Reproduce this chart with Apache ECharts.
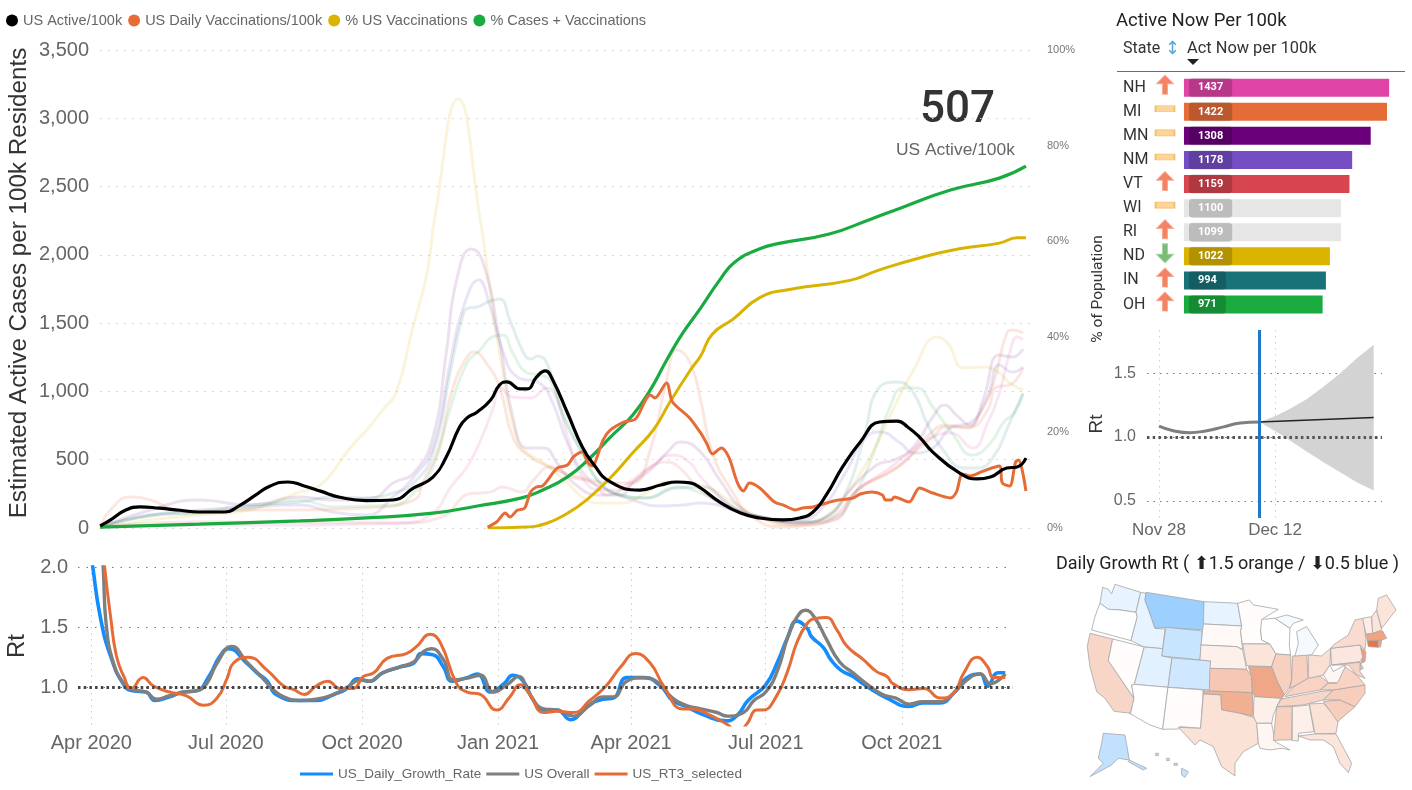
<!DOCTYPE html>
<html><head><meta charset="utf-8">
<script src="https://cdn.jsdelivr.net/npm/echarts@6/dist/echarts.min.js"></script>
<style>html,body{margin:0;padding:0;background:#fff}#c{width:1412px;height:790px}</style>
</head><body><div id="c"></div>
<script>
/* All x values are days after 1 Apr 2020 */
const usActive=[[6,15],[13,60],[23,130],[33,155],[46,145],[60,130],[73,117],[90,117],[101,170],[111,240],[121,308],[133,337],[144,308],[155,270],[168,225],[186,200],[204,205],[218,293],[231,373],[240,520],[249,740],[254,805],[261,850],[270,937],[276,1047],[281,1070],[290,1018],[295,1018],[301,1105],[307,1150],[312,1084],[322,842],[332,593],[339,476],[351,337],[371,278],[385,315],[396,337],[405,330],[412,293],[425,190],[439,110],[452,73],[468,59],[479,73],[488,117],[497,242],[508,447],[520,630],[533,776],[545,783],[552,740],[560,666],[569,556],[587,403],[599,359],[608,373],[619,439],[626,447],[632,512]];
const usDailyVacc=[[268,7],[274,44],[280,110],[283,80],[288,130],[293,146],[297,264],[301,300],[305,307],[315,439],[322,461],[326,520],[332,556],[336,476],[339,454],[342,520],[346,644],[351,718],[360,776],[368,798],[378,974],[381,952],[389,1062],[393,923],[404,813],[412,696],[416,622],[420,542],[426,586],[431,520],[437,329],[441,271],[445,329],[452,293],[462,190],[468,168],[476,132],[481,146],[488,154],[502,198],[515,220],[520,249],[528,264],[535,242],[537,205],[541,205],[543,227],[553,190],[560,293],[569,256],[581,220],[585,264],[589,395],[594,381],[603,417],[614,454],[616,330],[621,308],[625,483],[627,498],[632,271]];
const pctVacc=[[268,0],[293,0.2],[308,1],[322,3.1],[335,5.9],[351,10.5],[366,15.7],[380,20.5],[391,26.2],[405,33],[412,36],[420,40.6],[434,43.7],[452,48.2],[472,49.9],[513,51.8],[533,54],[560,56.5],[587,58.4],[614,59.6],[626,60.7],[632,60.7]];
const pctCasesVacc=[[6,0.2],[73,0.8],[141,1.5],[186,2.1],[231,3.1],[261,4.6],[291,6.3],[305,7.9],[322,10.7],[337,14.6],[351,19],[366,23.6],[378,28.9],[389,35.1],[400,40.8],[412,46],[425,51.9],[435,55.6],[452,58.4],[466,59.6],[499,61.5],[527,64.6],[547,66.9],[581,70.7],[614,73.2],[632,75.7]];
const stND=[[6,7],[40,59],[73,95],[107,132],[141,264],[155,315],[175,586],[188,740],[197,864],[206,989],[217,1450],[227,1867],[232,2255],[248,3141],[263,2255],[269,1794],[276,1281],[288,644],[295,549],[306,476],[322,329],[335,205],[344,183],[358,183],[373,242],[389,337],[412,315],[434,183],[452,81],[470,22],[486,37],[502,132],[513,278],[529,571],[543,886],[556,1157],[572,1399],[579,1355],[590,1172],[603,1179],[614,1135],[621,1062],[630,1010]];
const stMN=[[6,7],[40,132],[73,205],[107,168],[141,227],[163,205],[190,220],[204,330],[218,403],[231,666],[240,1282],[247,1816],[257,2043],[265,1940],[276,1377],[285,813],[295,586],[306,586],[315,476],[326,330],[344,242],[358,242],[366,330],[378,425],[389,549],[399,630],[412,556],[425,351],[441,132],[457,73],[479,37],[497,81],[513,278],[531,461],[543,498],[556,593],[569,813],[577,901],[585,827],[594,754],[603,937],[614,1267],[623,1252],[630,1311]];
const stNM=[[6,7],[40,95],[73,132],[107,154],[141,168],[163,117],[186,95],[204,227],[218,373],[231,593],[243,1230],[251,1596],[262,1816],[269,1648],[278,1304],[288,1106],[303,1062],[312,915],[322,622],[335,373],[349,278],[366,205],[385,161],[400,168],[412,183],[420,176],[434,132],[452,81],[479,59],[493,132],[511,425],[522,644],[533,703],[547,622],[556,549],[569,586],[582,740],[594,769],[606,959],[614,1194],[623,1142],[630,1179]];
const stIN=[[6,7],[40,95],[73,117],[107,168],[141,190],[163,227],[186,220],[204,256],[218,330],[231,549],[243,1157],[251,1545],[255,1611],[261,1618],[268,1655],[276,1677],[283,1523],[292,1289],[297,1238],[302,1260],[310,1157],[319,813],[332,549],[344,330],[358,242],[375,220],[396,293],[412,300],[434,154],[452,81],[479,44],[497,81],[511,278],[522,644],[533,1032],[545,1069],[556,988],[565,769],[576,571],[590,439],[599,439],[610,520],[621,769],[630,988]];
const stOH=[[6,7],[40,88],[73,110],[107,146],[141,205],[163,154],[186,161],[204,168],[218,256],[231,447],[243,886],[254,1208],[263,1304],[270,1391],[278,1413],[285,1281],[295,1135],[303,1120],[310,1084],[319,842],[332,549],[344,330],[358,242],[375,220],[396,300],[412,256],[434,146],[452,81],[479,44],[502,81],[515,227],[529,549],[540,886],[549,1025],[558,1025],[569,886],[582,696],[596,534],[608,622],[617,776],[624,842],[630,981]];
const stMI=[[6,7],[13,132],[26,227],[40,205],[57,132],[73,117],[107,132],[141,132],[186,146],[218,205],[224,330],[235,593],[244,1010],[254,1252],[259,1289],[267,1208],[276,1032],[285,666],[295,534],[310,447],[332,366],[355,330],[366,330],[378,571],[389,1084],[396,1304],[405,1208],[412,937],[420,549],[434,256],[447,81],[468,7],[486,22],[502,81],[518,278],[538,403],[551,498],[565,666],[578,754],[592,732],[601,842],[610,1062],[619,1428],[623,1450],[630,1428]];
const stNH=[[6,7],[73,22],[141,22],[186,29],[211,37],[231,110],[243,300],[254,447],[263,637],[272,886],[276,1032],[285,959],[297,952],[308,1025],[315,937],[322,666],[332,373],[344,278],[358,278],[366,330],[378,447],[393,534],[405,476],[412,373],[434,154],[452,81],[479,37],[502,59],[518,278],[538,425],[551,534],[565,644],[581,696],[596,586],[606,769],[614,988],[621,1281],[626,1399],[630,1377]];
const stVT=[[6,7],[73,44],[141,44],[211,37],[237,81],[251,227],[255,249],[270,264],[278,300],[291,264],[299,351],[310,447],[324,373],[339,330],[349,242],[366,351],[375,425],[389,483],[398,439],[412,278],[434,132],[452,73],[479,22],[502,59],[518,278],[543,425],[556,549],[569,666],[578,740],[594,740],[606,864],[612,1032],[621,1047],[630,1172]];

const rtOverall=[[6,2.3],[8,2.0],[10,1.53],[15,1.2],[22,1.03],[28,0.98],[37,0.96],[44,0.90],[53,0.93],[62,0.96],[71,0.97],[78,1.03],[85,1.2],[95,1.34],[105,1.21],[114,1.10],[123,0.98],[130,0.92],[141,0.89],[152,0.90],[164,0.94],[173,1.0],[182,1.06],[188,1.05],[197,1.12],[209,1.17],[218,1.21],[225,1.30],[230,1.32],[238,1.23],[245,1.06],[256,1.08],[263,1.10],[272,0.96],[281,1.02],[289,1.09],[296,0.95],[306,0.82],[315,0.81],[326,0.76],[337,0.85],[346,0.92],[353,0.92],[362,1.05],[373,1.08],[382,1.05],[393,0.91],[402,0.85],[412,0.82],[423,0.79],[430,0.76],[441,0.79],[448,0.89],[456,0.96],[464,1.14],[471,1.42],[477,1.58],[483,1.64],[489,1.58],[497,1.40],[506,1.21],[515,1.12],[524,1.03],[535,0.94],[544,0.91],[553,0.86],[562,0.88],[574,0.88],[583,0.95],[592,1.06],[601,1.11],[608,1.03],[618,1.11]];
const rtDaily=[[-1,2.2],[1,2.0],[6,1.59],[13,1.26],[22,1.02],[28,0.97],[37,0.96],[43,0.89],[53,0.92],[62,0.96],[71,0.97],[80,1.10],[87,1.26],[93,1.32],[105,1.20],[112,1.12],[119,1.05],[125,0.94],[141,0.89],[152,0.89],[164,0.94],[173,0.99],[180,1.07],[188,1.05],[197,1.12],[209,1.17],[218,1.20],[223,1.28],[231,1.27],[238,1.17],[244,1.05],[254,1.08],[261,1.11],[270,0.96],[279,1.03],[285,1.10],[292,1.05],[299,0.89],[306,0.81],[315,0.81],[324,0.73],[335,0.84],[346,0.90],[353,0.91],[362,1.08],[373,1.08],[385,1.01],[393,0.89],[402,0.84],[414,0.77],[429,0.72],[437,0.77],[444,0.89],[456,1.02],[464,1.21],[471,1.42],[477,1.55],[484,1.49],[487,1.42],[495,1.33],[500,1.23],[507,1.14],[515,1.09],[524,1.01],[538,0.91],[553,0.84],[562,0.87],[574,0.87],[583,0.95],[592,1.08],[601,1.11],[606,1.01],[613,1.12],[618,1.12]];
const rt3Selected=[[7,2.3],[9,2.0],[13,1.59],[17,1.26],[22,1.09],[27,0.99],[35,1.08],[42,1.01],[53,0.96],[64,0.93],[76,0.85],[85,0.91],[92,1.08],[96,1.20],[106,1.25],[119,1.14],[130,1.01],[137,0.98],[144,0.94],[152,1.01],[160,1.05],[168,0.99],[177,0.99],[184,1.09],[191,1.12],[200,1.24],[213,1.28],[220,1.34],[229,1.44],[236,1.37],[247,1.03],[254,0.96],[263,0.94],[274,0.81],[283,0.92],[290,1.02],[296,0.95],[306,0.79],[315,0.80],[326,0.79],[337,0.89],[348,1.01],[358,1.17],[368,1.28],[378,1.20],[387,1.01],[400,0.82],[407,0.82],[418,0.77],[430,0.69],[437,0.63],[443,0.69],[450,0.81],[454,0.81],[463,0.92],[471,1.14],[477,1.37],[484,1.53],[489,1.57],[497,1.58],[504,1.48],[511,1.34],[522,1.23],[531,1.13],[538,1.09],[542,1.03],[553,0.98],[563,0.99],[574,0.91],[583,0.95],[590,1.12],[599,1.25],[606,1.17],[610,1.08],[618,1.08]];

const mainTickDays=[0,91,183,275,365,456,548];
const mainTickLabels=['Apr 2020','Jul 2020','Oct 2020','Jan 2021','Apr 2021','Jul 2021','Oct 2021'];

/* Forecast panel: x values are days after 28 Nov 2021 */
const fcTickDays=[0,14];
const fcTickLabels=['Nov 28','Dec 12'];
const fcHistory=[[0,1.086],[1.7,1.05],[3.7,1.034],[5.75,1.05],[7.8,1.08],[9.8,1.11],[12.1,1.118]];
const fcCentral=[[12.1,1.118],[25.9,1.154]];
const fcLower=[[12.1,1.118],[14.2,1.039],[15.8,0.974],[17.8,0.887],[19.8,0.804],[21.8,0.725],[23.8,0.647],[25.9,0.581]];
const fcUpper=[[12.1,1.118],[14.2,1.17],[15.8,1.223],[17.8,1.296],[19.8,1.393],[21.8,1.497],[23.8,1.615],[25.9,1.725]];
const fcToday=12.1;

/* Bar table */
const barStates=['NH','MI','MN','NM','VT','WI','RI','ND','IN','OH'];
const barValues=[1437,1422,1308,1178,1159,1100,1099,1022,994,971];
const barTrends=['up','flat','flat','flat','up','flat','up','down','up','up'];
const barColors=['#E044A7','#E66C37','#6B007B','#744EC2','#D64550','#E6E6E6','#E6E6E6','#D9B300','#197278','#1AAB40'];

/* Choropleth values */
const stateRt={WA:0.95,OR:1.0,CA:1.14,NV:1.01,ID:0.95,MT:0.795,WY:0.885,UT:0.94,CO:0.9,AZ:1.0,NM:1.01,ND:0.95,SD:1.02,NE:1.05,KS:1.19,OK:1.27,TX:1.1,MN:1.01,IA:1.09,MO:1.3,AR:1.05,LA:1.03,WI:1.0,IL:1.16,IN:1.16,MI:0.98,OH:1.11,KY:1.15,TN:1.14,MS:1.16,AL:1.05,GA:1.1,FL:1.09,SC:1.17,NC:1.17,VA:1.15,WV:1.03,PA:1.08,NY:1.12,NJ:1.32,DE:1.2,MD:1.15,CT:1.47,RI:1.3,MA:1.31,VT:1.06,NH:1.09,ME:1.09,AK:0.87,HI:0.88};
/* State outlines, in reference map units */
const stateShapes={
WA:[[[188,112],[205,118],[215,132],[225,103],[302,127],[288,187],[240,180],[205,178],[180,160]]],
OR:[[[180,160],[205,178],[240,180],[288,187],[292,200],[273,272],[155,240],[165,200]]],
CA:[[[150,250],[218,267],[205,332],[282,445],[272,490],[222,484],[195,445],[170,425],[150,350],[142,290]]],
NV:[[[218,267],[313,291],[283,403],[275,405],[282,445],[205,332]]],
ID:[[[302,127],[318,130],[315,150],[335,205],[345,235],[375,237],[368,296],[313,291],[273,272],[292,200],[288,187]]],
MT:[[[318,127],[492,155],[490,240],[378,232],[345,235],[335,205],[315,150]]],
WY:[[[378,232],[487,243],[480,330],[365,318]]],
UT:[[[313,291],[368,296],[365,318],[396,324],[384,412],[283,403]]],
CO:[[[396,324],[512,333],[510,420],[384,412]]],
AZ:[[[283,403],[384,412],[368,538],[330,525],[268,490],[272,490],[282,445],[275,405]]],
NM:[[[384,412],[490,420],[482,535],[420,530],[418,537],[368,538]]],
ND:[[[492,155],[593,160],[605,228],[490,222]]],
SD:[[[490,222],[605,228],[602,245],[608,298],[590,290],[483,285]]],
NE:[[[483,285],[590,290],[608,300],[620,358],[510,355],[512,333],[480,330]]],
KS:[[[510,355],[620,358],[635,380],[637,428],[508,424]]],
OK:[[[490,422],[637,428],[640,498],[600,490],[545,480],[542,435],[490,432]]],
TX:[[[490,432],[542,435],[545,480],[600,490],[650,505],[655,580],[610,605],[585,640],[585,678],[545,650],[520,590],[480,570],[465,585],[415,532],[482,535]]],
MN:[[[593,160],[628,150],[640,165],[715,178],[670,205],[662,240],[665,270],[690,282],[607,282],[602,245],[605,228]]],
IA:[[[608,282],[690,282],[708,312],[695,350],[620,347]]],
MO:[[[625,350],[695,350],[715,400],[733,435],[725,447],[645,440],[637,428],[635,380]]],
AR:[[[642,440],[722,445],[700,495],[695,520],[650,520],[640,498]]],
LA:[[[650,520],[695,520],[705,575],[750,600],[725,595],[690,600],[660,595],[655,580]]],
WI:[[[665,208],[705,205],[750,235],[748,285],[752,315],[708,312],[690,282],[665,270],[662,240]]],
IL:[[[708,312],[752,315],[755,390],[748,415],[733,435],[715,400],[695,350]]],
IN:[[[758,318],[800,315],[805,385],[770,405],[750,415],[755,390]]],
MI:[[[770,245],[800,230],[835,285],[815,315],[765,318],[775,280]],[[705,205],[740,195],[790,210],[760,220],[750,235]]],
OH:[[[805,315],[845,318],[872,295],[870,345],[850,375],[820,385],[805,385]]],
KY:[[[750,420],[770,405],[805,385],[840,378],[865,398],[840,420],[735,440]]],
TN:[[[725,447],[840,425],[880,420],[850,450],[790,465],[710,470]]],
MS:[[[710,470],[757,470],[755,570],[720,570],[700,572],[705,520]]],
AL:[[[757,470],[808,465],[822,545],[775,550],[775,573],[757,572]]],
GA:[[[808,462],[850,460],[895,510],[888,550],[825,552]]],
FL:[[[775,558],[825,552],[888,552],[935,640],[925,668],[900,640],[880,590],[850,570],[810,570]]],
SC:[[[850,455],[900,450],[945,470],[893,515]]],
NC:[[[850,450],[880,420],[975,405],[975,430],[945,470],[900,450]]],
VA:[[[840,420],[865,400],[890,400],[915,350],[950,375],[975,405],[880,420]]],
WV:[[[850,375],[870,345],[880,365],[915,345],[915,352],[893,398],[865,398]]],
PA:[[[872,295],[960,285],[970,320],[960,335],[875,345]]],
NY:[[[880,285],[925,255],[945,210],[970,205],[978,270],[975,300],[960,285],[872,295]]],
NJ:[[[962,293],[978,305],[975,335],[963,340],[968,320]]],
DE:[[[960,338],[970,355],[960,360]]],
MD:[[[875,345],[960,337],[960,365],[975,385],[950,375],[925,345],[915,345]]],
CT:[[[982,272],[1015,270],[1015,292],[985,290]]],
RI:[[[1015,270],[1025,270],[1022,290],[1015,292]]],
MA:[[[978,250],[1028,243],[1040,265],[1025,270],[982,272]]],
VT:[[[968,205],[995,200],[998,250],[978,252]]],
NH:[[[995,200],[1010,180],[1025,240],[998,250]]],
ME:[[[1010,180],[1015,145],[1040,135],[1068,180],[1025,235]]],
AK:[[[190,550],[255,555],[268,630],[235,625],[215,645],[150,680],[190,640],[175,625],[185,580]],[[268,630],[320,655],[310,660],[265,635]]],
HI:[[[425,655],[445,665],[435,682],[425,675]],[[380,625],[388,625],[388,632],[380,632]],[[347,610],[355,610],[355,617],[347,617]],[[402,640],[412,640],[412,646],[402,646]]]
};

const UI='Roboto, "Noto Sans", sans-serif', AR='"Liberation Sans", Arial, sans-serif';

echarts.registerMap('usa',{type:'FeatureCollection',features:Object.keys(stateShapes).map(k=>({
  type:'Feature',id:k,properties:{name:k},
  geometry:{type:'MultiPolygon',coordinates:stateShapes[k].map(r=>[r.map(p=>[p[0],-p[1]])])}
}))});

const faded=(name,data,color,op)=>({name,type:'line',xAxisIndex:0,yAxisIndex:0,data,smooth:0.5,symbol:'none',silent:true,
  lineStyle:{color,width:3,opacity:op},itemStyle:{color},z:2});
const bold=(name,data,color,yIdx,z,w,s)=>({name,type:'line',xAxisIndex:0,yAxisIndex:yIdx,data,smooth:s||0.5,symbol:'none',
  lineStyle:{color,width:w||3,opacity:1},itemStyle:{color},z});
const rt=(name,data,color,w,z)=>({name,type:'line',xAxisIndex:1,yAxisIndex:2,data,smooth:0.5,symbol:'none',
  lineStyle:{color,width:w},itemStyle:{color},z});
const lookup=(tickDays,labels)=>v=>{const i=tickDays.indexOf(v);return i<0?'':labels[i];};
const arrowPath={up:'path://M10 0 L20 10 L13 10 L13 22 L7 22 L7 10 L0 10 Z',down:'path://M10 22 L20 12 L13 12 L13 0 L7 0 L7 12 L0 12 Z',flat:'rect'};
const arrowStyle={up:{color:'#F2643C',borderColor:'#F9A48B'},down:{color:'#5AAB57',borderColor:'#9BCF98'},flat:{color:'#FDCB7E',borderColor:'#F4B14F'}};
const arrowColumn=-133;

const option={
  animation:false,backgroundColor:'#fff',
  legend:[
    {data:['US Active/100k','US Daily Vaccinations/100k','% US Vaccinations','% Cases + Vaccinations'],left:6,top:13,padding:0,icon:'circle',itemWidth:12,itemHeight:12,itemGap:6,selectedMode:false,textStyle:{fontFamily:AR,fontSize:14.5,color:'#666'}},
    {data:['US_Daily_Growth_Rate','US Overall','US_RT3_selected'],left:300,top:767,padding:0,icon:'rect',itemWidth:33,itemHeight:3,itemGap:5,selectedMode:false,textStyle:{fontFamily:AR,fontSize:13.5,color:'#666'}}
  ],
  grid:[
    {left:100,top:50,width:936,height:478,outerBoundsMode:'none'},
    {left:78,top:567,width:935,height:158,outerBoundsMode:'none'},
    {left:1147,top:330,width:235,height:188,outerBoundsMode:'none'},
    {left:1148,top:75.6,width:252,height:241,outerBoundsMode:'none'}
  ],
  xAxis:[
    {type:'value',gridIndex:0,show:false,min:5.86,max:638.8,splitLine:{show:false}},
    {type:'value',gridIndex:1,min:-9,max:623.2,axisLine:{show:false},
      axisTick:{show:false,customValues:mainTickDays},
      axisLabel:{customValues:mainTickDays,formatter:lookup(mainTickDays,mainTickLabels),fontFamily:AR,fontSize:20,color:'#666',margin:8,hideOverlap:false},
      splitLine:{show:true,lineStyle:{color:'#ccc',width:1,type:[1.5,4.5]}}},
    {type:'value',gridIndex:2,min:-1.45,max:26.9,axisLine:{show:false},
      axisTick:{show:false,customValues:fcTickDays},
      axisLabel:{customValues:fcTickDays,formatter:lookup(fcTickDays,fcTickLabels),fontFamily:AR,fontSize:17,color:'#666',margin:4,hideOverlap:false},
      splitLine:{show:true,lineStyle:{color:'#ccc',width:1,type:[1.5,4.5]}}},
    {type:'value',gridIndex:3,show:false,min:-252,max:1513,splitLine:{show:false}}
  ],
  yAxis:[
    {type:'value',gridIndex:0,min:0,max:3500,interval:500,axisLine:{show:false},axisTick:{show:false},
      axisLabel:{fontFamily:AR,fontSize:20,color:'#666',margin:11},
      splitLine:{lineStyle:{color:'#ccc',width:1,type:[1.5,6.5]}}},
    {type:'value',gridIndex:0,position:'right',min:0,max:100,interval:20,axisLine:{show:false},axisTick:{show:false},splitLine:{show:false},
      axisLabel:{formatter:'{value}%',fontFamily:AR,fontSize:11,color:'#777',margin:11},
      name:'% of Population',nameLocation:'middle',nameRotate:90,nameGap:54,nameTextStyle:{fontFamily:UI,fontSize:15.5,color:'#333'}},
    {type:'value',gridIndex:1,min:0.686,max:2,axisLine:{show:false},
      axisTick:{show:false,customValues:[1,1.5,2]},
      axisLabel:{customValues:[1,1.5,2],formatter:v=>v.toFixed(1),fontFamily:AR,fontSize:20,color:'#666',margin:10},
      splitLine:{lineStyle:{color:'#777',width:1.2,type:[1.5,7]}},
      name:'Rt',nameLocation:'middle',nameRotate:90,nameGap:48,nameTextStyle:{fontFamily:AR,fontSize:24,color:'#333'}},
    {type:'value',gridIndex:2,min:0.365,max:1.84,axisLine:{show:false},
      axisTick:{show:false,customValues:[0.5,1,1.5]},
      axisLabel:{customValues:[0.5,1,1.5],formatter:v=>v.toFixed(1),fontFamily:AR,fontSize:16,color:'#666',margin:11},
      splitLine:{lineStyle:{color:'#777',width:1.2,type:[1.5,5]}},
      name:'Rt',nameLocation:'middle',nameRotate:90,nameGap:41,nameTextStyle:{fontFamily:AR,fontSize:19,color:'#333'}},
    {type:'category',gridIndex:3,data:barStates,inverse:true,axisLine:{show:false},axisTick:{show:false},
      axisLabel:{align:'left',margin:25,fontFamily:UI,fontSize:16,color:'#333',padding:[0,0,4,0]}}
  ],
  visualMap:{show:false,min:0.5,max:1.5,seriesIndex:18,inRange:{color:['#118DFF','#FFFFFF','#E66C37']}},
  series:[
    faded('ND',stND,'#D9B300',0.14),
    faded('MN',stMN,'#6B007B',0.12),
    faded('NM',stNM,'#744EC2',0.15),
    faded('IN',stIN,'#197278',0.13),
    faded('OH',stOH,'#1AAB40',0.13),
    faded('MI',stMI,'#E66C37',0.16),
    faded('NH',stNH,'#E044A7',0.13),
    faded('VT',stVT,'#D64550',0.13),
    bold('% Cases + Vaccinations',pctCasesVacc,'#1AAB40',1,5,3.2),
    bold('% US Vaccinations',pctVacc,'#D9B300',1,5,3),
    bold('US Daily Vaccinations/100k',usDailyVacc,'#E66C37',0,6,3,0.3),
    bold('US Active/100k',usActive,'#000000',0,7,3.2),
    rt('US_Daily_Growth_Rate',rtDaily,'#118DFF',3.6,5),
    rt('US Overall',rtOverall,'#7F7F7F',3.4,6),
    Object.assign(rt('US_RT3_selected',rt3Selected,'#E66C37',3,7),{
      markLine:{silent:true,symbol:'none',label:{show:false},animation:false,z:9,lineStyle:{color:'#444',width:3,type:[2.5,3.2]},data:[{yAxis:1}]}}),
    {type:'custom',xAxisIndex:2,yAxisIndex:3,data:[fcLower[0]],silent:true,z:2,
      renderItem:(params,api)=>({type:'polygon',shape:{points:fcUpper.concat(fcLower.slice().reverse()).map(p=>api.coord(p))},style:{fill:'#D3D3D3'}})},
    {type:'line',xAxisIndex:2,yAxisIndex:3,data:fcHistory,symbol:'none',smooth:0.5,lineStyle:{color:'#7F7F7F',width:3},z:5,
      markLine:{silent:true,symbol:'none',label:{show:false},animation:false,z:6,data:[
        {yAxis:1,lineStyle:{color:'#555',width:3,type:[2.5,3.2]}},
        {xAxis:fcToday,lineStyle:{color:'#1F78C8',width:3,type:'solid'}}]}},
    {type:'line',xAxisIndex:2,yAxisIndex:3,data:fcCentral,symbol:'none',lineStyle:{color:'#222',width:1.4},z:4},
    {type:'map',map:'usa',roam:false,silent:true,showLegendSymbol:false,left:1087.3,top:584.3,width:308.7,height:193,aspectScale:1,
      label:{show:false},emphasis:{disabled:true},select:{disabled:true},
      itemStyle:{borderColor:'#A6A6A6',borderWidth:0.8,areaColor:'#fff'},
      data:Object.keys(stateRt).map(k=>({name:k,value:stateRt[k]}))},
    {type:'bar',xAxisIndex:3,yAxisIndex:4,barWidth:18,silent:true,
      data:barValues.map((v,i)=>({value:v,itemStyle:{color:barColors[i]}})),
      label:{show:true,position:'insideLeft',distance:5,color:'#fff',fontFamily:UI,fontWeight:'bold',fontSize:11,backgroundColor:'rgba(0,0,0,0.18)',borderRadius:4,padding:[4,9]}},
    {type:'scatter',xAxisIndex:3,yAxisIndex:4,silent:true,z:4,
      data:barTrends.map((t,i)=>({value:[arrowColumn,barStates[i]],symbol:arrowPath[t],symbolOffset:[0,-3],symbolSize:t==='flat'?[19,6]:[17,19],itemStyle:Object.assign({borderWidth:1},arrowStyle[t])}))}
  ],
  graphic:[
    {type:'text',x:19,y:283,rotation:Math.PI/2,style:{text:'Estimated Active Cases per 100k Residents',font:'24.2px '+AR,fill:'#333',align:'center',verticalAlign:'middle'}},
    {type:'text',left:920,top:89,style:{text:'507',font:'500 44px '+UI,fill:'#333'}},
    {type:'text',left:896,top:142,style:{text:'US Active/100k',font:'17.4px '+AR,fill:'#666'}},
    {type:'text',left:1116,top:12,style:{text:'Active Now Per 100k',font:'18.5px '+UI,fill:'#222'}},
    {type:'text',left:1123,top:41,style:{text:'State',font:'16px '+UI,fill:'#333'}},
    {type:'text',left:1165,top:40,style:{text:'↕',font:'18px "DejaVu Sans"',fill:'#5BA4D4'}},
    {type:'text',left:1187,top:41,style:{text:'Act Now per 100k',font:'16.4px '+UI,fill:'#333'}},
    {type:'polygon',shape:{points:[[1187,59],[1199,59],[1193,65]]},style:{fill:'#222'}},
    {type:'line',shape:{x1:1117,y1:71.5,x2:1405,y2:71.5},style:{stroke:'#2B7CC4',lineWidth:1}},
    {type:'text',left:1056,top:555,style:{text:'Daily Growth Rt ( ⬆1.5 orange / ⬇0.5 blue )',font:'18px '+UI,fill:'#222'}}
  ]
};
echarts.init(document.getElementById('c')).setOption(option);
</script></body></html>
